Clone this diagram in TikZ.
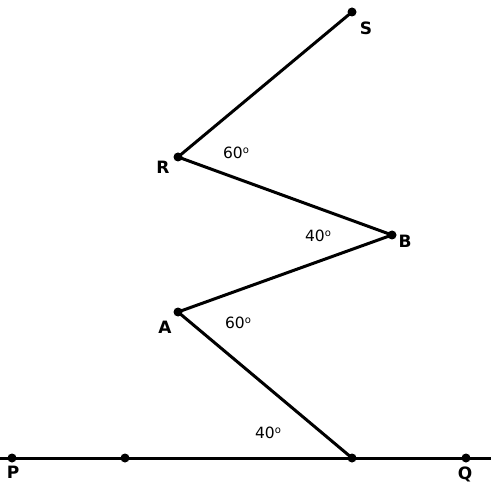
\documentclass[tikz,border=0pt]{standalone}
\usepackage{fontspec}
\setmainfont{DejaVu Sans}
\begin{document}
\begin{tikzpicture}[x=1pt,y=-1pt,
  seg/.style={line width=3pt, line cap=round},
  dot/.style={circle, fill=black, inner sep=0pt, minimum size=9pt},
  lbl/.style={font=\fontsize{17}{19}\selectfont\bfseries, inner sep=0pt},
  ang/.style={font=\fontsize{15.5}{17}\selectfont, inner sep=0pt}]
\useasboundingbox (0,0) rectangle (491,487);
\coordinate (L) at (0,458);
\coordinate (Rend) at (491,458);
\node[dot] (P) at (12,458) {};
\node[dot] (M) at (125,458) {};
\node[dot] (F) at (352,458) {};
\node[dot] (Q) at (466,458) {};
\node[dot] (A) at (178,312) {};
\node[dot] (B) at (392,235) {};
\node[dot] (R) at (178,157) {};
\node[dot] (S) at (352,12) {};
\draw[seg] (L) -- (Rend);
\draw[seg] (F.center) -- (A.center) -- (B.center) -- (R.center) -- (S.center);
\node[lbl] (tS) at (366,28) {S};
\node[lbl] (tR) at (163,167) {R};
\node[lbl] (tB) at (405,241) {B};
\node[lbl] (tA) at (165,327) {A};
\node[lbl] (tP) at (13,472) {P};
\node[lbl] (tQ) at (465,474) {Q};
\node[ang] (a1) at (236,153) {60\raisebox{0.55ex}{\fontsize{10}{11}\selectfont o}};
\node[ang] (a2) at (318,236) {40\raisebox{0.55ex}{\fontsize{10}{11}\selectfont o}};
\node[ang] (a3) at (238,323) {60\raisebox{0.55ex}{\fontsize{10}{11}\selectfont o}};
\node[ang] (a4) at (268,433) {40\raisebox{0.55ex}{\fontsize{10}{11}\selectfont o}};
\end{tikzpicture}
\end{document}
